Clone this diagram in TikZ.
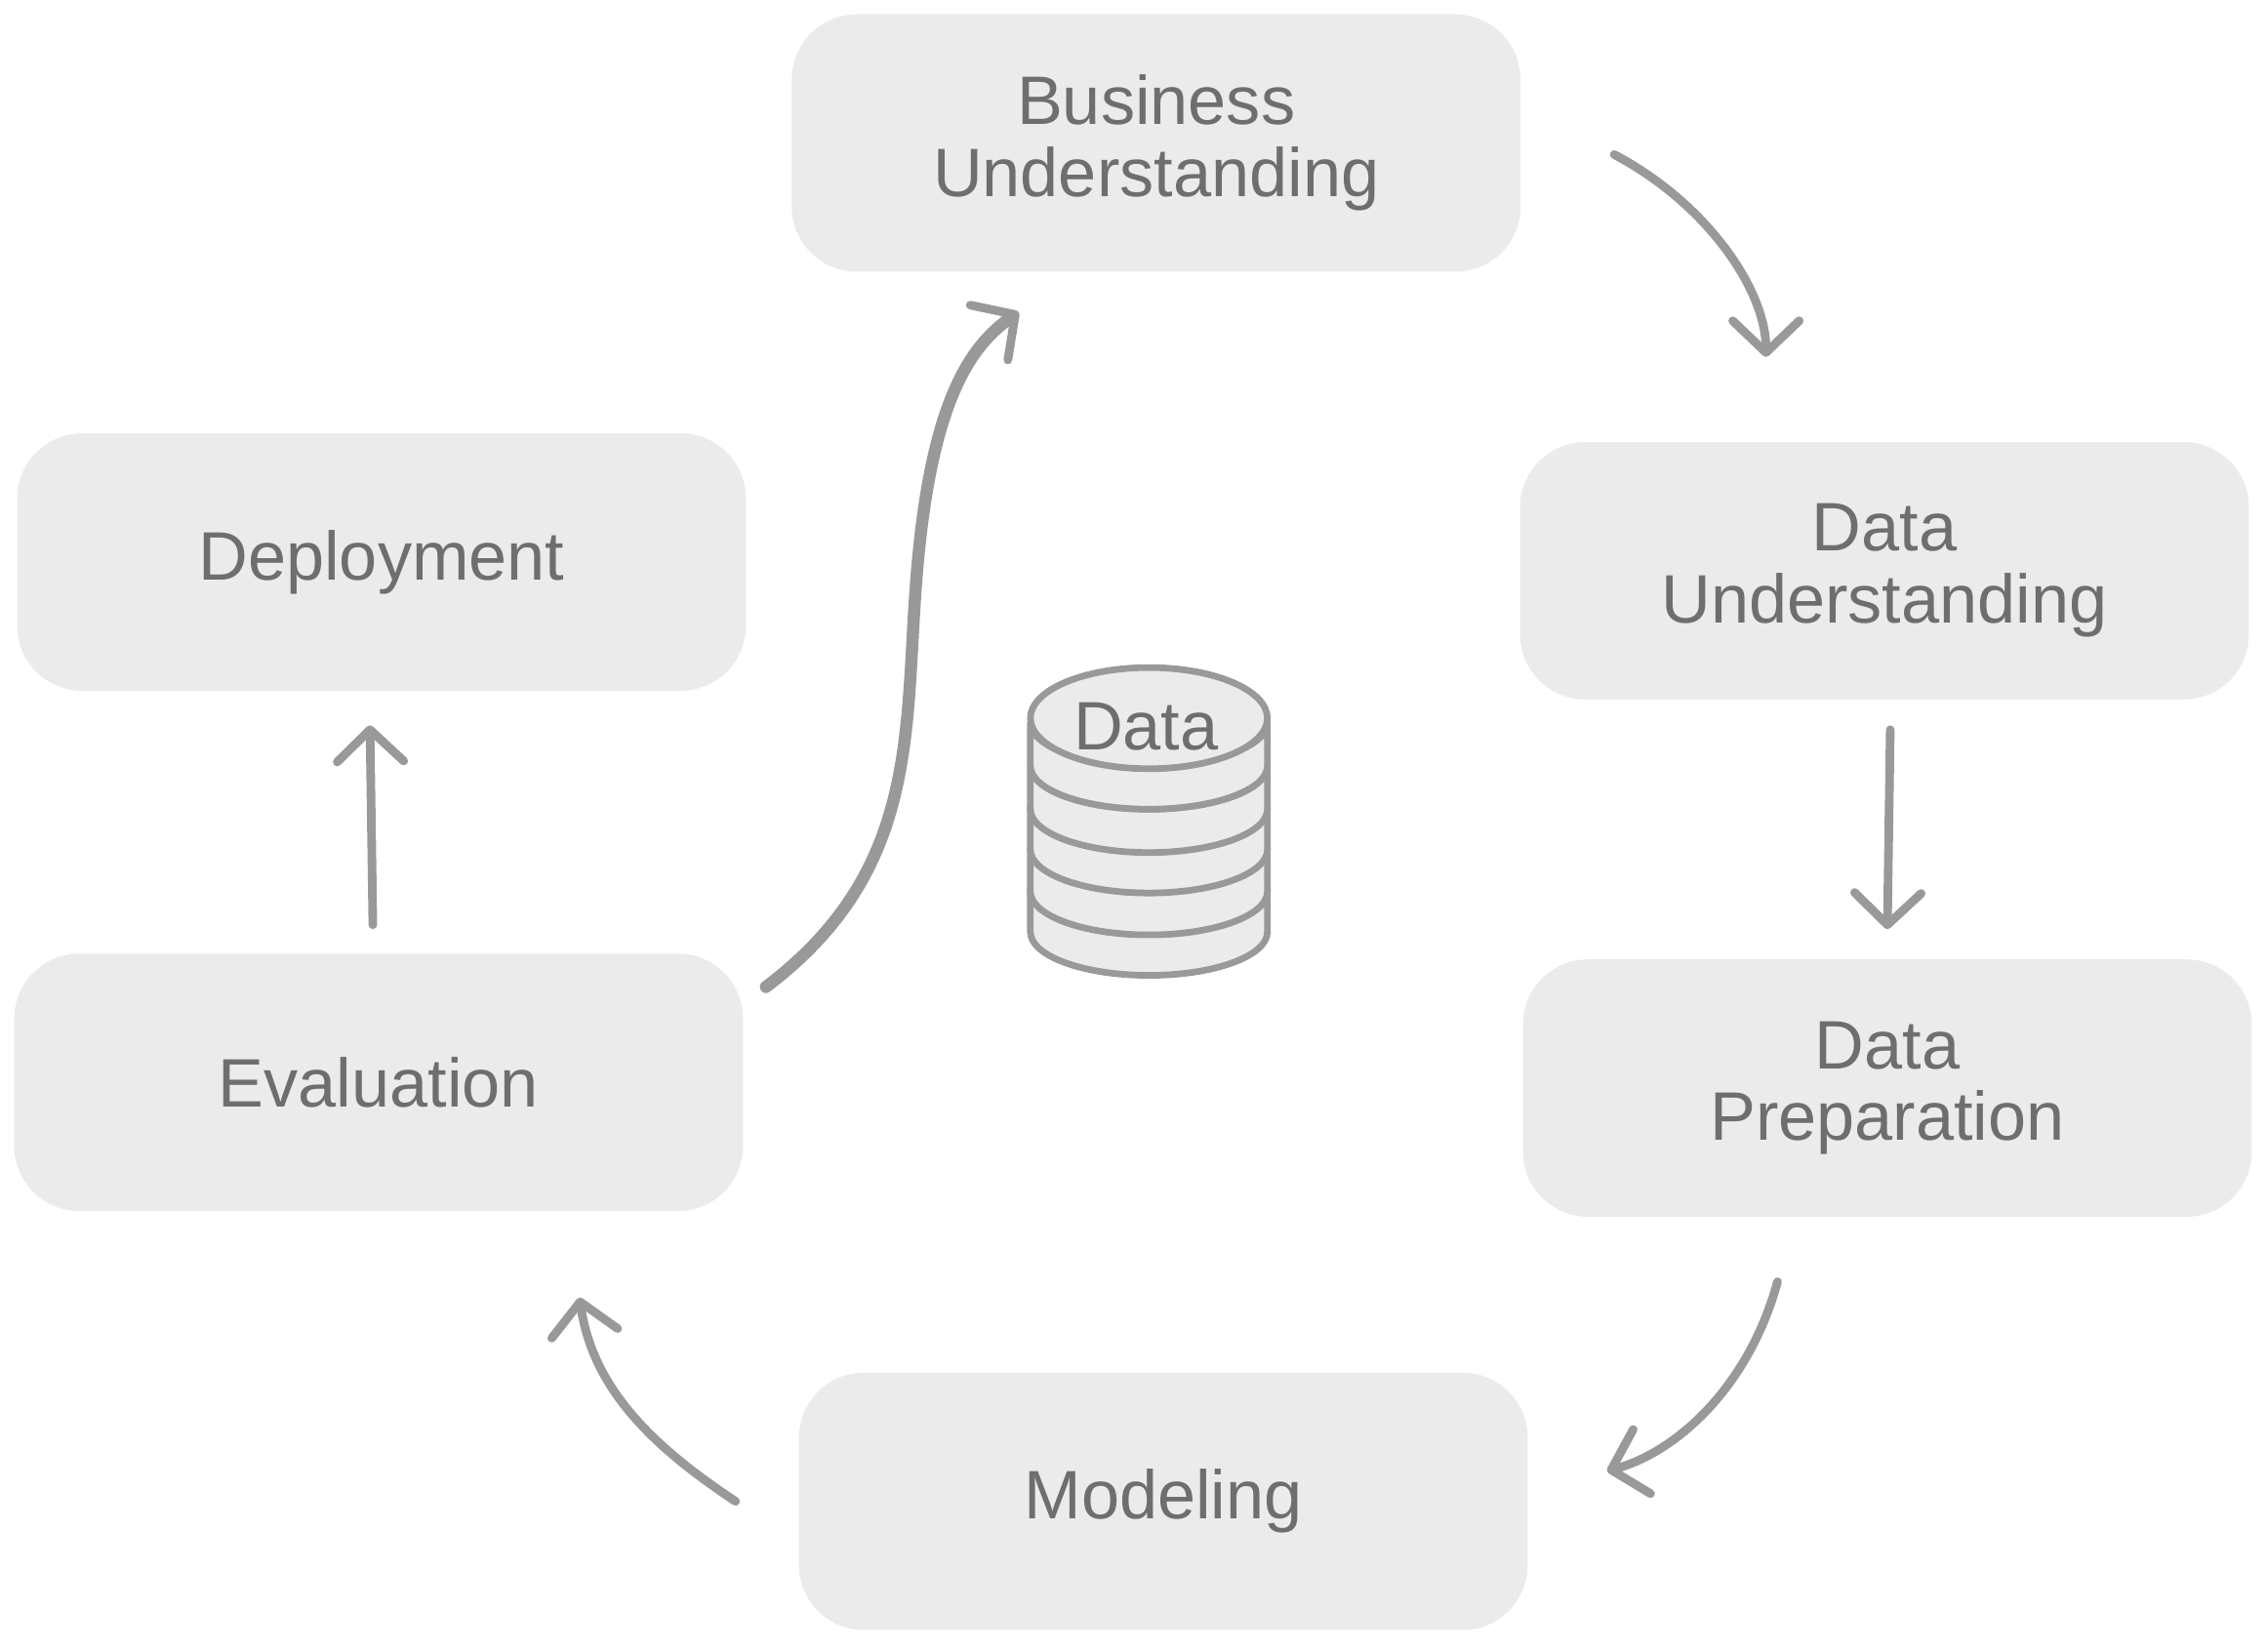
\documentclass[tikz,border=0pt]{standalone}
\usepackage{fontspec}
\setmainfont{Liberation Sans}
\usetikzlibrary{arrows.meta}
\definecolor{boxf}{HTML}{EBEBEB}
\definecolor{txt}{HTML}{6E6E6E}
\definecolor{arr}{HTML}{999999}
\begin{document}
\begin{tikzpicture}[x=0.01cm,y=-0.01cm,
  box/.style={fill=boxf,rounded corners=0.45cm,minimum width=5.04cm,minimum height=1.78cm,text=txt,align=center,font=\fontsize{13.5}{14.2}\selectfont,inner sep=0pt},
  ar/.style={draw=arr,line width=1.7pt,line cap=round,-{Straight Barb[length=2.2mm,width=4.6mm,line width=1.7pt,round]}}]
\useasboundingbox (0,0) rectangle (1568,1143);
\node[box] (bu) at (800,99) {Business\\Understanding};
\node[box] (du) at (1304,395) {Data\\Understanding};
\node[box] (dp) at (1306,753) {Data\\Preparation};
\node[box] (mo) at (805,1039) {Modeling};
\node[box] (ev) at (262,749) {Evaluation};
\node[box] (de) at (264,389) {Deployment};
% database
\begin{scope}[draw=arr,fill=boxf,line width=1.3pt]
\foreach \y in {645,617,588,560,530}{
  \filldraw (713,\y-30) -- (713,\y) arc[start angle=180,end angle=0,x radius=82,y radius=30] -- (877,\y-30) arc[start angle=0,end angle=180,x radius=82,y radius=30] -- cycle;}
\filldraw (795,497) ellipse[x radius=82,y radius=35];
\end{scope}
\node[text=txt,font=\fontsize{13.5}{14}\selectfont] (db) at (793,503) {Data};
\coordinate (a1) at (1117,107); \coordinate (b1) at (1222,247);
\coordinate (a2) at (1308,505); \coordinate (b2) at (1306,643);
\coordinate (a3) at (1230,887); \coordinate (b3) at (1112,1018);
\coordinate (a4) at (509,1039); \coordinate (b4) at (401,898);
\coordinate (a5) at (258,640); \coordinate (b5) at (256,502);
\coordinate (a6) at (530,683); \coordinate (b6) at (705,216);
\draw[ar] (a1) .. controls (1180,140) and (1222,200) .. (b1);
\draw[ar] (a2) -- (b2);
\draw[ar] (a3) .. controls (1210,960) and (1160,1005) .. (b3);
\draw[ar] (a4) .. controls (450,1000) and (410,960) .. (b4);
\draw[ar] (a5) -- (b5);
\draw[ar,line width=2.4pt] (a6) .. controls (640,600) and (625,500) .. (635,390) .. controls (645,280) and (670,240) .. (b6);
\end{tikzpicture}
\end{document}
